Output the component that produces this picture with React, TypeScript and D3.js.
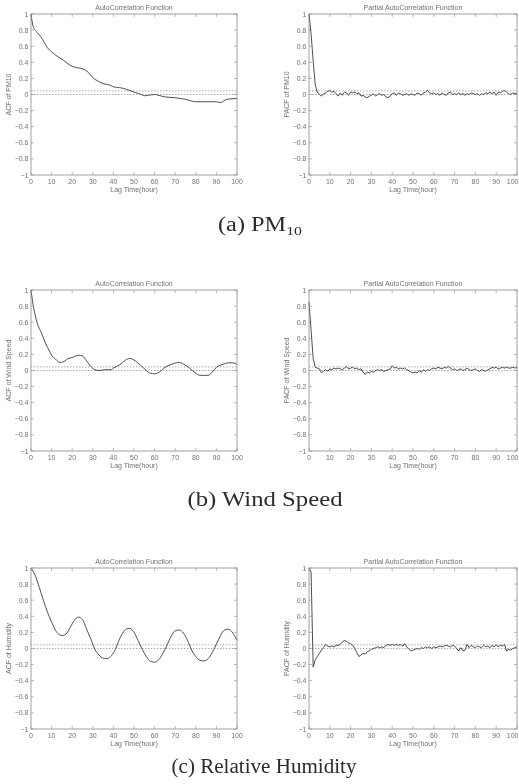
import React from "react";
import * as d3 from "d3";

// ---------- DATA ----------
const xTicks = [0, 10, 20, 30, 40, 50, 60, 70, 80, 90, 100];
const yTicks = [-1, -0.8, -0.6, -0.4, -0.2, 0, 0.2, 0.4, 0.6, 0.8, 1];
const confLevels = [0.045, 0];

const acfPmLags = [0, 1, 3, 5, 8, 10, 13, 15, 18, 20, 23, 25, 28, 30, 33, 35, 38, 40, 43, 45, 48, 50, 53, 55, 57, 60, 62, 65, 70, 75, 80, 85, 90, 92, 95, 100];
const acfPmVals = [1.0, 0.85, 0.77, 0.71, 0.58, 0.53, 0.47, 0.44, 0.38, 0.35, 0.33, 0.32, 0.27, 0.21, 0.16, 0.135, 0.12, 0.095, 0.085, 0.075, 0.05, 0.03, 0.005, -0.015, -0.01, 0.0, -0.01, -0.03, -0.04, -0.06, -0.09, -0.09, -0.09, -0.1, -0.06, -0.05];

const acfWindLags = [0, 1, 2, 3, 5, 7, 9, 10, 12, 14, 16, 18, 20, 23, 25, 27, 29, 31, 33, 36, 39, 40, 43, 46, 48, 50, 53, 56, 58, 60, 62, 65, 68, 72, 74, 77, 80, 82, 86, 88, 90, 93, 96, 98, 100];
const acfWindVals = [1.0, 0.82, 0.69, 0.59, 0.47, 0.34, 0.24, 0.19, 0.14, 0.1, 0.11, 0.15, 0.16, 0.19, 0.18, 0.12, 0.05, 0.01, 0.0, 0.01, 0.01, 0.03, 0.07, 0.13, 0.15, 0.13, 0.07, 0.0, -0.035, -0.04, -0.025, 0.04, 0.075, 0.1, 0.08, 0.03, -0.035, -0.06, -0.06, -0.02, 0.04, 0.075, 0.095, 0.095, 0.075];

const acfHumLags = [0, 2, 4, 6, 8, 10, 12, 14, 15, 17, 19, 21, 23, 25, 27, 29, 31, 33, 35, 37, 39, 41, 43, 45, 47, 48, 50, 52, 54, 56, 58, 60, 62, 64, 66, 68, 70, 72, 74, 76, 78, 80, 82, 84, 86, 88, 90, 92, 94, 96, 98, 100];
const acfHumVals = [1.0, 0.91, 0.76, 0.6, 0.45, 0.33, 0.22, 0.17, 0.16, 0.18, 0.26, 0.35, 0.39, 0.36, 0.24, 0.12, -0.01, -0.08, -0.12, -0.125, -0.09, -0.01, 0.12, 0.21, 0.25, 0.25, 0.2, 0.1, -0.01, -0.1, -0.16, -0.17, -0.14, -0.06, 0.04, 0.15, 0.22, 0.23, 0.19, 0.1, -0.02, -0.1, -0.145, -0.155, -0.125, -0.05, 0.055, 0.16, 0.23, 0.24, 0.19, 0.1];

const pacfPmVals = [1.0, 0.75, 0.42, 0.12, 0.03, 0.0, -0.02, 0.01, 0.02, 0.04, 0.05, 0.03, 0.04, 0.01, -0.02, 0.02, -0.01, 0.03, 0.02, -0.01, 0.03, 0.02, 0.03, 0.01, 0.02, -0.02, -0.01, -0.03, -0.04, -0.02, -0.01, 0.01, -0.02, 0.0, 0.01, -0.01, 0.0, -0.03, -0.04, -0.02, 0.01, 0.02, -0.01, 0.02, 0.01, -0.01, 0.0, 0.01, -0.01, 0.01, 0.0, -0.01, 0.02, 0.01, -0.01, 0.02, 0.03, 0.05, 0.02, 0.01, 0.02, 0.0, 0.01, -0.01, 0.02, 0.0, -0.01, 0.02, 0.03, 0.0, 0.01, 0.0, 0.02, 0.0, 0.01, -0.01, 0.01, 0.0, 0.02, 0.01, 0.0, 0.01, -0.01, 0.01, 0.0, 0.02, 0.01, 0.03, 0.01, 0.03, -0.01, 0.03, 0.02, 0.04, 0.05, 0.03, 0.01, 0.0, 0.02, 0.01, 0.02];

const pacfWindVals = [0.85, 0.5, 0.15, 0.04, 0.03, 0.02, -0.03, -0.01, 0.01, -0.01, 0.02, 0.01, 0.03, 0.02, 0.03, 0.02, 0.01, 0.03, 0.05, 0.02, 0.03, 0.04, 0.02, 0.03, 0.01, 0.02, -0.02, -0.05, -0.02, -0.03, -0.01, -0.02, 0.0, 0.01, 0.0, 0.01, -0.01, 0.0, 0.01, 0.02, 0.06, 0.03, 0.04, 0.02, 0.03, 0.02, 0.03, 0.01, 0.0, -0.02, -0.03, -0.02, -0.03, 0.0, -0.02, 0.01, -0.01, 0.01, 0.0, 0.02, 0.03, 0.02, 0.04, 0.03, 0.02, 0.04, 0.03, 0.05, 0.03, 0.01, 0.02, 0.0, 0.01, 0.02, 0.0, 0.01, 0.03, 0.01, 0.0, 0.01, 0.02, 0.0, -0.01, 0.01, 0.0, -0.01, 0.01, 0.02, 0.04, 0.03, 0.04, 0.02, 0.03, 0.04, 0.03, 0.04, 0.03, 0.03, 0.04, 0.03, 0.04];

const pacfHumVals = [1.0, 0.95, -0.23, -0.14, -0.1, -0.06, -0.02, 0.01, 0.05, 0.03, 0.02, 0.03, 0.02, 0.04, 0.04, 0.05, 0.08, 0.1, 0.09, 0.07, 0.06, 0.04, 0.0, -0.05, -0.1, -0.08, -0.06, -0.07, -0.04, -0.03, -0.01, 0.0, 0.01, 0.02, 0.01, 0.02, 0.01, 0.04, 0.05, 0.04, 0.05, 0.04, 0.05, 0.04, 0.05, 0.03, 0.06, 0.02, -0.01, -0.03, -0.02, -0.01, 0.0, -0.01, 0.01, 0.0, 0.02, 0.01, 0.02, 0.0, 0.02, 0.01, 0.02, 0.03, 0.02, 0.03, 0.04, 0.03, 0.02, 0.04, 0.03, 0.0, -0.03, 0.01, -0.03, -0.02, 0.05, 0.01, 0.04, 0.02, 0.01, 0.03, 0.02, 0.01, 0.04, 0.02, 0.03, 0.01, 0.04, 0.02, 0.05, 0.02, 0.04, 0.03, 0.05, -0.03, -0.01, -0.02, 0.0, 0.01, 0.02];

const acfTitle = "AutoCorrelation Function";
const pacfTitle = "Partial AutoCorrelation Function";
const xLabel = "Lag Time(hour)";
const yLabels = ["ACF of PM10", "PACF of PM10", "ACF of Wind Speed", "PACF of Wind Speed", "ACF of Humidity", "PACF of Humidity"];
const captions = ["(a) PM", "(b) Wind Speed", "(c) Relative Humidity"];

// ---------- LAYOUT ----------
const W = 519, H = 784;
const rowTops = [14, 290, 568];
const plotH = 161;
const leftX = [31, 237];
const rightX = [309, 517];
const captionBase = [231, 506, 773];
const captionWidth = [84, 155, 185];

const axisColor = "#8a8a8a";
const textColor = "#707070";
const lineColor = "#3a3a3a";

type PanelProps = {
  x0: number; x1: number; y0: number;
  lags: number[]; vals: number[];
  title: string; yLabel: string; ylabX: number; smooth: boolean;
};

function Panel({ x0, x1, y0, lags, vals, title, yLabel, ylabX, smooth }: PanelProps) {
  const x = d3.scaleLinear().domain([0, 100]).range([x0, x1]);
  const y = d3.scaleLinear().domain([-1, 1]).range([y0 + plotH, y0]);
  const pts: [number, number][] = lags.map((l, i) => [l, vals[i]]);
  const line = d3.line<[number, number]>()
    .x(d => x(d[0])).y(d => y(d[1]))
    .curve(smooth ? d3.curveMonotoneX : d3.curveLinear);
  const tk = 3;
  const fmt = (v: number) => (v === 0 ? "0" : Math.abs(v) === 1 ? (v < 0 ? "\u22121" : "1") : (v < 0 ? "\u2212" : "") + Math.abs(v).toFixed(1));
  return (
    <g fontFamily="Arial, 'Liberation Sans', sans-serif" fill={textColor}>
      <text x={(x0 + x1) / 2} y={y0 - 4.5} fontSize={7} textAnchor="middle">{title}</text>
      {confLevels.map((c, i) => (
        <line key={"c" + i} x1={x(0)} x2={x(100)} y1={y(c)} y2={y(c)} stroke="#777" strokeWidth={0.6} strokeDasharray="1.5,1.5" />
      ))}
      <path d={line(pts) || ""} fill="none" stroke={lineColor} strokeWidth={0.9} />
      <rect x={x0} y={y0} width={x1 - x0} height={plotH} fill="none" stroke={axisColor} strokeWidth={0.8} />
      {xTicks.map(t => {
        const tx = x(t);
        const clip = tx + 6 > W;
        return (
          <g key={"x" + t}>
            <line x1={tx} x2={tx} y1={y0 + plotH} y2={y0 + plotH - tk} stroke={axisColor} strokeWidth={0.6} />
            <line x1={tx} x2={tx} y1={y0} y2={y0 + tk} stroke={axisColor} strokeWidth={0.6} />
            <text x={clip ? W - 0.5 : tx} y={y0 + plotH + 8.5} fontSize={7} textAnchor={clip ? "end" : "middle"}>{t}</text>
          </g>
        );
      })}
      {yTicks.map(t => (
        <g key={"y" + t}>
          <line x1={x0} x2={x0 + tk} y1={y(t)} y2={y(t)} stroke={axisColor} strokeWidth={0.6} />
          <line x1={x1} x2={x1 - tk} y1={y(t)} y2={y(t)} stroke={axisColor} strokeWidth={0.6} />
          <text x={x0 - 2.5} y={y(t) + 2.5} fontSize={7} textAnchor="end">{fmt(t)}</text>
        </g>
      ))}
      <text x={(x0 + x1) / 2} y={y0 + plotH + 16.5} fontSize={7} textAnchor="middle">{xLabel}</text>
      <text transform={`translate(${ylabX},${y0 + plotH / 2}) rotate(-90)`} fontSize={7} textAnchor="middle">{yLabel}</text>
    </g>
  );
}

export default function App() {
  const lags101 = d3.range(0, 101);
  const rows = [
    { acfL: acfPmLags, acfV: acfPmVals, pacf: pacfPmVals },
    { acfL: acfWindLags, acfV: acfWindVals, pacf: pacfWindVals },
    { acfL: acfHumLags, acfV: acfHumVals, pacf: pacfHumVals },
  ];
  const capCenters = [260, 265, 264];
  return (
    <svg width={W} height={H} style={{ position: "absolute", left: 0, top: 0, background: "#fff" }}>
      <rect width={W} height={H} fill="#fff" />
      <g opacity={0.995}>
        {rows.map((r, i) => (
          <g key={i}>
            <Panel x0={leftX[0]} x1={leftX[1]} y0={rowTops[i]} lags={r.acfL} vals={r.acfV}
              title={acfTitle} yLabel={yLabels[i * 2]} ylabX={11} smooth={true} />
            <Panel x0={rightX[0]} x1={rightX[1]} y0={rowTops[i]} lags={lags101} vals={r.pacf}
              title={pacfTitle} yLabel={yLabels[i * 2 + 1]} ylabX={289} smooth={false} />
            <text x={capCenters[i]} y={captionBase[i]} fontSize={20} textAnchor="middle"
              fontFamily="Liberation Serif, Times New Roman, Times, serif" fill="#2a2a2a"
              textLength={captionWidth[i]} lengthAdjust="spacingAndGlyphs">
              {captions[i]}
              {i === 0 ? <tspan fontSize={13} dy={4}>10</tspan> : null}
            </text>
          </g>
        ))}
      </g>
    </svg>
  );
}
